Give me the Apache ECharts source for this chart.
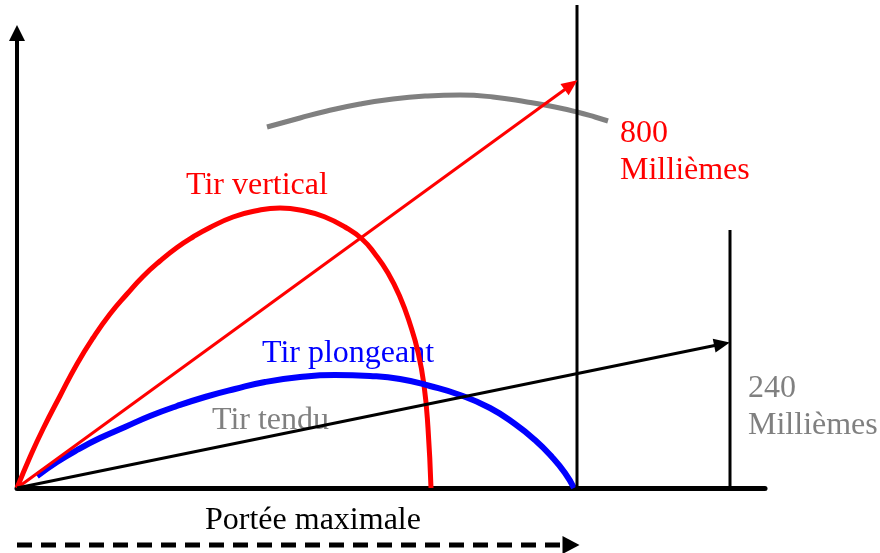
<!DOCTYPE html>
<html>
<head>
<meta charset="utf-8">
<script src="https://cdn.jsdelivr.net/npm/echarts@6/dist/echarts.min.js"></script>
<style>
  html, body { margin: 0; padding: 0; background: #fff; }
  #chart { width: 880px; height: 553px; }
</style>
</head>
<body>
<div id="chart"></div>
<script>
// trajectoires (x = portée, y = hauteur)
var tirVertical = [[0,0],[13,31],[26,59],[43,92],[60,124],[76,150],[93,174],[110,194],[126,211.5],
    [143,227],[160,240.5],[176,251],[193,260.5],[216,271],[238,277],[263,280],[288,277],[308,271],
    [328,261],[345,249],[358,234],[371,215],[383,191],[393,164],[401,136],[407,103],[411,60],[414,0]];
var tirPlongeant = [[20,12],[40,26],[60,38],[83,50],[108,61],[133,72],[160,82],[188,91],[218,99],[248,106],
    [283,111],[318,113],[353,112],[383,109],[413,102],[443,93],[473,80],[498,64],[518,48],[535,31],
    [548,15],[557,0]];
var arcHausse = [[250,361],[283,370],[310,377],[343,384],[376,389],[410,392],[443,393],[476,391],[510,386],
    [538,381],[560,376],[578,371],[591,367]];

// lignes droites (fin = centre de la pointe)
var fleche800 = [[0,0],[554,403]];
var fleche240 = [[0,0],[705,144]];
var butee800 = [[560,0],[560,483]];
var butee240 = [[713,0],[713,258]];
var porteeMax = [[0,-57],[554,-57]];

var xMax = 748, yMax = 455;
var police = "'Liberation Serif', 'Times New Roman', serif";

var chart = echarts.init(document.getElementById('chart'));

function texte(txt, x, y, couleur) {
    return {
        type: 'text', x: x, y: y, silent: true,
        style: { text: txt, fill: couleur, font: '32px ' + police, align: 'left', verticalAlign: 'middle' }
    };
}

function segment(pts, couleur, largeur) {
    return [
        { coord: pts[0], symbol: 'none' },
        { coord: pts[1], symbol: 'triangle', lineStyle: { color: couleur, width: largeur, type: 'solid' } }
    ];
}

var option = {
    animation: false,
    backgroundColor: '#fff',
    grid: { left: 17, right: 115, top: 33, bottom: 65 },
    xAxis: {
        type: 'value', min: 0, max: xMax,
        axisLine: { show: true, lineStyle: { color: '#000', width: 5 } },
        axisTick: { show: false }, axisLabel: { show: false }, splitLine: { show: false }
    },
    yAxis: {
        type: 'value', min: 0, max: yMax,
        axisLine: { show: true, symbol: ['none', 'triangle'], symbolSize: [16, 16],
            lineStyle: { color: '#000', width: 4 } },
        axisTick: { show: false }, axisLabel: { show: false }, splitLine: { show: false }
    },
    series: [
        { type: 'line', name: 'Tir vertical', data: tirVertical, smooth: true, showSymbol: false, clip: false,
          lineStyle: { color: '#ff0000', width: 5 } },
        { type: 'line', name: 'Tir plongeant', data: tirPlongeant, smooth: true, showSymbol: false, clip: false,
          lineStyle: { color: '#0000ff', width: 6 } },
        { type: 'line', name: 'arc', data: arcHausse, smooth: true, showSymbol: false, clip: false,
          lineStyle: { color: '#808080', width: 5 } },
        { type: 'line', data: butee800, showSymbol: false, clip: false, lineStyle: { color: '#000', width: 3 } },
        { type: 'line', data: butee240, showSymbol: false, clip: false, lineStyle: { color: '#000', width: 3 } },
        // portée maximale : tirets + pointe
        { type: 'line', clip: false, showSymbol: true,
          data: [
              { value: porteeMax[0], symbol: 'none' },
              { value: porteeMax[1], symbol: 'triangle', symbolRotate: -90, symbolSize: [18, 17] }
          ],
          itemStyle: { color: '#000' },
          lineStyle: { color: '#000', width: 5, type: [15, 9] }
        },
        { type: 'line', data: [], clip: false,
          markLine: {
              silent: true, animation: false, label: { show: false },
              symbolSize: [14, 16],
              data: [
                  segment(fleche800, '#ff0000', 3),
                  segment(fleche240, '#000', 3)
              ]
          }
        }
    ],
    graphic: [
        texte('Tir vertical', 186, 186, '#ff0000'),
        texte('800', 620, 134, '#ff0000'),
        texte('Millièmes', 620, 171, '#ff0000'),
        texte('Tir plongeant', 262, 354, '#0000ff'),
        texte('Tir tendu', 212, 421, '#808080'),
        texte('240', 748, 389, '#808080'),
        texte('Millièmes', 748, 426, '#808080'),
        texte('Portée maximale', 205, 521, '#000')
    ]
};

chart.setOption(option);
</script>
</body>
</html>
